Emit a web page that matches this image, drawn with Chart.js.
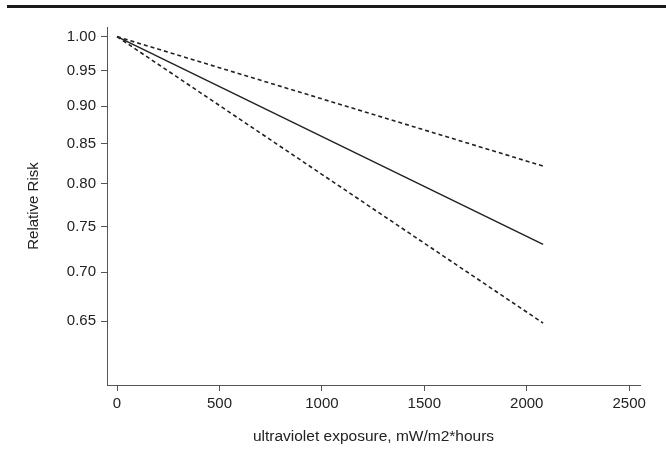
<!DOCTYPE html>
<html>
<head>
<meta charset="utf-8">
<script src="https://cdn.jsdelivr.net/npm/chart.js@4.4.0/dist/chart.umd.min.js"></script>
<style>
  html, body { margin: 0; padding: 0; background: #fff; }
  #wrap { position: relative; width: 666px; height: 449px; }
  #rule { position: absolute; left: 7px; top: 5px; width: 659px; height: 3px; background: #1a1a1a; }
  canvas { position: absolute; left: 0; top: 0; }
</style>
</head>
<body>
<div id="wrap">
  <div id="rule"></div>
  <canvas id="grafico" width="666" height="449"></canvas>
</div>
<script>
// ---------------------------------------------------------
// Dados
// ---------------------------------------------------------
const exposicao = [0, 2080];
const rrEstimado = [1.0, 0.730];
const rrSuperior = [1.0, 0.822];
const rrInferior = [1.0, 0.648];

const ticksY = [0.65, 0.70, 0.75, 0.80, 0.85, 0.90, 0.95, 1.00];
const ticksX = [0, 500, 1000, 1500, 2000, 2500];

const fonte = "'Liberation Sans', Arial, sans-serif";
const corEixo = "#555";

function pontos(valores) {
  return exposicao.map((x, i) => ({ x: x, y: valores[i] }));
}

new Chart(document.getElementById("grafico"), {
  type: "line",
  data: {
    datasets: [
      {
        data: pontos(rrSuperior),
        borderColor: "#222",
        borderWidth: 1.6,
        borderDash: [4, 3],
        pointRadius: 0,
      },
      {
        data: pontos(rrEstimado),
        borderColor: "#222",
        borderWidth: 1.5,
        pointRadius: 0,
      },
      {
        data: pontos(rrInferior),
        borderColor: "#222",
        borderWidth: 1.6,
        borderDash: [4, 3],
        pointRadius: 0,
      },
    ],
  },
  options: {
    responsive: false,
    animation: false,
    devicePixelRatio: 1,
    layout: { padding: { top: 27, right: 26, left: 0, bottom: 0 } },
    plugins: { legend: { display: false }, tooltip: { enabled: false } },
    scales: {
      x: {
        type: "linear",
        min: -49,
        max: 2553,
        afterBuildTicks: (s) => { s.ticks = ticksX.map((v) => ({ value: v })); },
        afterFit: (s) => { s.height = 449 - 385; },
        border: { display: true, color: corEixo, width: 1 },
        grid: { drawOnChartArea: false, drawTicks: true, tickLength: 6, color: corEixo },
        ticks: {
          color: "#222",
          padding: 4,
          maxRotation: 0,
          font: { family: fonte, size: 15 },
          callback: (v) => String(v),
        },
        title: {
          display: true,
          text: "ultraviolet exposure, mW/m2*hours",
          color: "#222",
          font: { family: fonte, size: 15.5 },
          padding: { top: 0, bottom: 3 },
        },
      },
      y: {
        type: "logarithmic",
        min: 0.591,
        max: 1.0147,
        afterBuildTicks: (s) => { s.ticks = ticksY.map((v) => ({ value: v })); },
        afterFit: (s) => { s.width = 107; },
        border: { display: true, color: corEixo, width: 1 },
        grid: { drawOnChartArea: false, drawTicks: true, tickLength: 6, color: corEixo },
        ticks: {
          color: "#222",
          padding: 5,
          font: { family: fonte, size: 15 },
          callback: (v) => Number(v).toFixed(2),
        },
        title: {
          display: true,
          text: "Relative Risk",
          color: "#222",
          font: { family: fonte, size: 15 },
          padding: { top: 25, bottom: 0 },
        },
      },
    },
  },
});
</script>
</body>
</html>
